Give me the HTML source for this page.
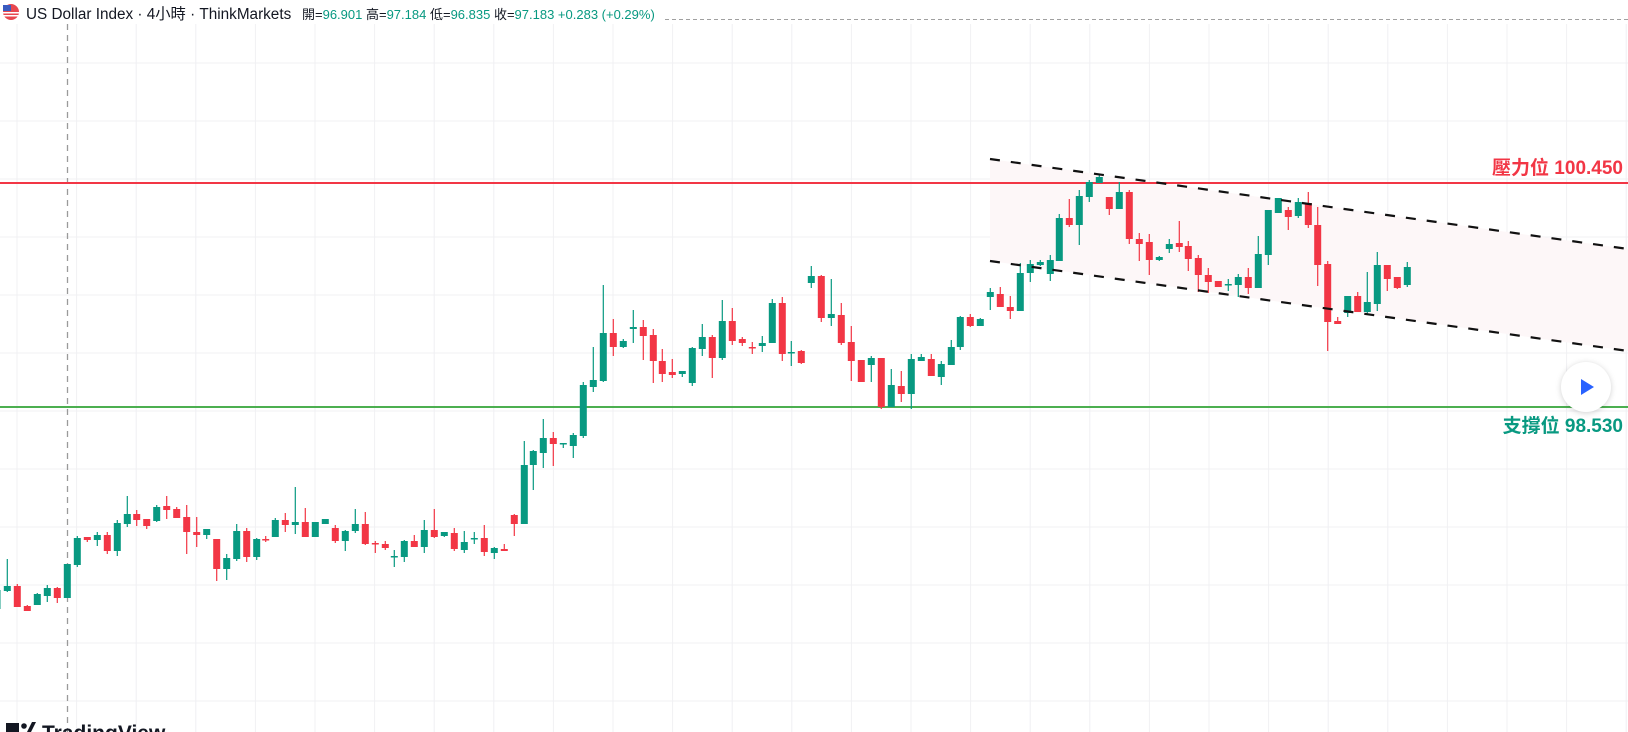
<!DOCTYPE html>
<html><head><meta charset="utf-8">
<style>
html,body{margin:0;padding:0;background:#fff;width:1628px;height:732px;overflow:hidden;}
svg{display:block}
text{font-family:"Liberation Sans","Noto Sans CJK TC",sans-serif;}
</style></head><body>
<svg id="c" width="1628" height="732" xmlns="http://www.w3.org/2000/svg">
<g id="grid" stroke="#f0f0f3" stroke-width="1"></g>
<polygon points="990,159 1628,249 1628,351 990,261" fill="#fdf7f8"/>
<line x1="67.5" y1="24" x2="67.5" y2="732" stroke="#9a9a9a" stroke-width="1.3" stroke-dasharray="6,5"/>
<line x1="665" y1="19.5" x2="1628" y2="19.5" stroke="#a0a0a0" stroke-width="1" stroke-dasharray="4,3"/>
<line x1="0" y1="183" x2="1628" y2="183" stroke="#f23645" stroke-width="2"/>
<line x1="0" y1="407" x2="1628" y2="407" stroke="#4caf50" stroke-width="2"/>
<g id="candles"></g>
<line x1="990" y1="159" x2="1628" y2="249" stroke="#111" stroke-width="2.2" stroke-dasharray="10,11"/>
<line x1="990" y1="261" x2="1628" y2="351" stroke="#111" stroke-width="2.2" stroke-dasharray="10,11"/>
<text x="1623" y="174" text-anchor="end" font-size="19" font-weight="bold" fill="#f23645">壓力位 100.450</text>
<text x="1623" y="432" text-anchor="end" font-size="19" font-weight="bold" fill="#089981">支撐位 98.530</text>
<circle cx="1586" cy="387" r="25" fill="#fff" style="filter:drop-shadow(0 1px 3px rgba(0,0,0,0.18))"/>
<polygon points="1581,379 1581,395 1594,387" fill="#2962ff"/>
<!-- header -->
<circle cx="11" cy="12" r="8" fill="#e8474f"/>
<rect x="3" y="5" width="8" height="6" fill="#3a5bbf"/>
<rect x="3" y="12" width="16" height="1.5" fill="#fff"/>
<rect x="3" y="15" width="16" height="1.5" fill="#fff"/>
<text x="26" y="19" font-size="15.3" fill="#131722">US Dollar Index · 4小時 · ThinkMarkets</text>
<text x="302" y="19" font-size="13" fill="#131722">開=<tspan fill="#089981">96.901</tspan> 高=<tspan fill="#089981">97.184</tspan> 低=<tspan fill="#089981">96.835</tspan> 收=<tspan fill="#089981">97.183 +0.283 (+0.29%)</tspan></text>
<!-- logo -->
<rect x="6" y="723" width="13" height="9" fill="#131722"/>
<circle cx="24" cy="726" r="2.8" fill="#131722"/>
<polygon points="27,732 32,722 36,722 31,732" fill="#131722"/>
<text x="42" y="740" font-size="21" font-weight="bold" fill="#131722">TradingView</text>
</svg>
<script>
var g=document.getElementById('grid'),s='';
for(var i=0;i<28;i++){var x=17+59.6*i;s+='<line x1="'+x+'" y1="24" x2="'+x+'" y2="732"/>';}
for(var y=63;y<732;y+=58){s+='<line x1="0" y1="'+y+'" x2="1628" y2="'+y+'"/>';}
g.innerHTML=s;
var d=[[-3,1,590,609,590,609],[7.3,1,586,591,559,592],[17.3,0,586,607,584,607],[27.3,0,606,611,605,611],[37.3,1,594,605,593,605],[47.3,1,588,596,585,602],[57.3,0,588,598,587,603],[67.3,1,564,598,564,598],[77.3,1,538,565,536,567],[87.3,0,537,540,537,542],[97.3,1,535,540,532,546],[107.3,0,535,551,532,554],[117.3,1,523,551,520,556],[127.3,1,514,524,496,527],[136.7,0,514,520,510,526],[146.7,0,519,526,519,529],[156.7,1,507,521,505,522],[166.7,0,506,510,496,519],[176.7,0,509,518,507,518],[186.7,0,517,532,505,554],[196.7,0,532,535,517,547],[206.7,1,529,535,529,539],[216.7,0,539,569,539,581],[226.7,1,558,569,554,580],[236.7,1,531,559,524,561],[246.7,0,531,557,528,562],[256.7,1,539,557,538,560],[265.7,0,539,540,536,542],[275.3,1,520,537,518,537],[285.3,0,520,525,513,532],[295.3,1,522,525,487,534],[305.3,0,522,537,508,537],[315.3,1,522,537,522,537],[325.3,1,519,524,519,524],[335.3,0,528,541,525,543],[345.3,1,531,541,530,551],[355.3,1,524,531,509,533],[365.3,0,524,544,512,545],[375.3,0,543,544,541,553],[385.3,0,544,548,541,550],[394.3,1,556,557,550,567],[404.3,1,541,557,540,562],[414.3,0,541,547,535,547],[424.3,1,530,547,520,553],[434.3,0,530,537,509,538],[444.3,1,532,536,532,537],[454.3,0,533,549,528,551],[464.3,1,542,550,531,553],[474.3,1,538,539,532,544],[484.3,0,538,552,525,556],[494.3,1,548,553,547,559],[504.3,0,549,551,544,551],[514.3,0,515,524,514,536],
[524.3,1,465,524,441,524],[533.3,1,451,465,450,490],[543.3,1,438,453,419,468],[553.3,0,438,444,432,466],[563.3,1,443,444,443,448],[573.3,1,435,446,433,458],[583.3,1,385,436,382,438],[593.3,1,380,387,347,392],[603.3,1,333,381,285,382],[613.3,0,333,347,319,356],[623.3,1,341,347,339,348],[633.3,1,327,329,310,343],[643.3,0,327,336,320,360],[653.3,0,335,361,329,383],[662.3,0,361,374,349,382],[672.3,0,372,375,359,378],[682.3,1,371,374,371,377],[692.3,1,348,383,347,386],[702.3,1,337,349,324,356],[712.3,0,337,358,335,378],[722.3,1,321,358,300,360],[732.3,0,321,341,308,345],[742.3,0,339,343,337,346],[752.3,0,347,348,342,354],[762.3,1,343,346,336,352],[772.3,1,303,343,299,343],[782.3,0,303,354,297,361],[791.3,1,352,353,341,366],[801.3,0,351,363,350,364],[811.3,1,276,283,266,288],[821.3,0,276,318,275,322],[831.3,1,314,318,279,326],[841.3,0,315,343,303,345],[851.3,0,342,361,326,381],[861.3,0,360,382,360,382],[871.3,1,358,365,356,382],[881.3,0,358,407,358,409],[891.3,1,385,407,369,407],[901.3,0,386,394,371,402],[911.3,1,359,394,354,409],[921.3,1,357,361,354,361],[931.3,0,359,376,354,376],[941.3,1,364,377,361,385],[951.3,1,347,365,340,365],
[960.3,1,317,347,316,350],[970.3,0,317,326,314,327],[980.3,1,319,326,318,326],[990.3,1,292,297,288,310],[1000.3,0,294,307,287,307],[1010.3,0,307,311,296,319],[1020.3,1,273,311,263,311],[1030.3,1,264,273,260,282],[1040.3,1,262,265,260,266],[1050.3,1,260,274,255,281],[1059.3,1,218,261,214,261],[1069.3,0,218,225,199,227],[1079.3,1,196,225,190,245],[1089.3,1,182,197,180,202],[1099.3,1,177,183,174,183],[1109.3,0,197,209,197,215],[1119.3,1,192,209,182,209],[1129.3,0,192,239,190,244],[1139.3,0,239,244,233,261],[1149.3,0,242,260,234,275],[1159.3,1,257,260,256,261],[1169.3,1,244,249,239,253],[1179.3,0,243,247,221,252],[1188.3,0,246,259,241,271],[1198.3,0,258,275,255,292],[1208.3,0,275,282,268,293],[1218.3,0,281,287,281,287],[1228.3,1,284,285,279,291],[1238.3,1,277,285,274,297],[1248.3,0,277,288,268,294],[1258.3,1,254,288,236,288],[1268.3,1,210,255,210,265],[1278.3,1,198,213,198,213],[1288.3,0,210,217,207,230],[1298.3,1,202,216,198,218],[1308.3,0,203,225,192,228],[1317.7,0,225,265,207,286],[1327.7,0,264,322,261,351],[1337.7,0,321,324,317,324],[1347.7,1,296,313,296,317],[1357.7,0,296,312,292,312],[1367.3,1,302,312,272,315],[1377.3,1,265,304,252,311],[1387.3,0,265,279,265,291],[1397.3,0,277,288,277,289],[1407.3,1,267,285,262,287]];
var o='';
d.forEach(function(c){var col=c[1]?'#089981':'#f23645';var h=Math.max(1.5,c[3]-c[2]);
o+='<rect x="'+(c[0]-0.6)+'" y="'+c[4]+'" width="1.2" height="'+Math.max(1,c[5]-c[4])+'" fill="'+col+'"/>';
o+='<rect x="'+(c[0]-3.5)+'" y="'+c[2]+'" width="7" height="'+h+'" fill="'+col+'"/>';});
document.getElementById('candles').innerHTML=o;
</script>
</body></html>
